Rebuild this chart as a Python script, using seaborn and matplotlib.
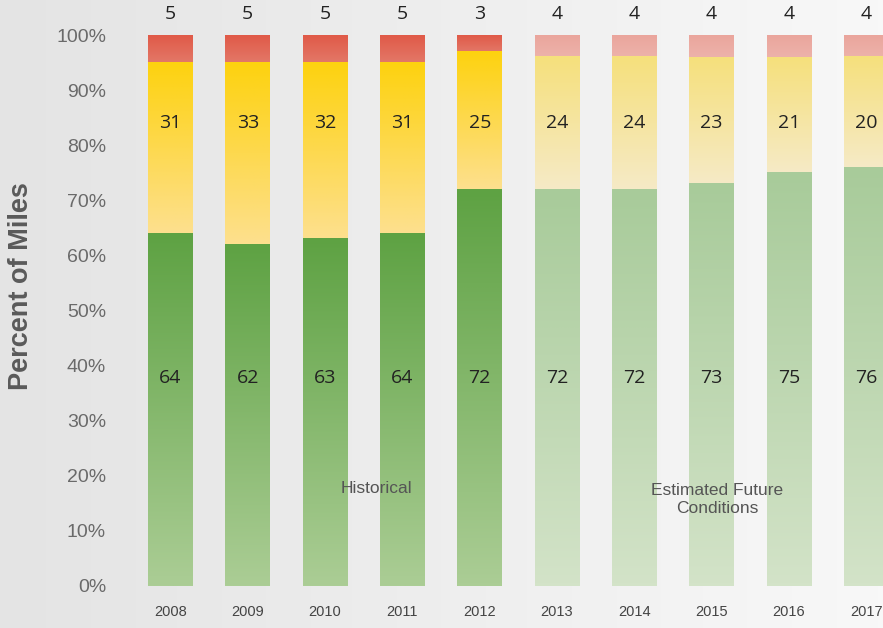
import numpy as np
import pandas as pd
import seaborn as sns
import matplotlib
matplotlib.use("Agg")
import matplotlib.pyplot as plt
from matplotlib.colors import LinearSegmentedColormap

# --- data ---
years = ['2008', '2009', '2010', '2011', '2012', '2013', '2014', '2015', '2016', '2017']
good = [64, 62, 63, 64, 72, 72, 72, 73, 75, 76]
fair = [31, 33, 32, 31, 25, 24, 24, 23, 21, 20]
poor = [5, 5, 5, 5, 3, 4, 4, 4, 4, 4]
period = ['hist', 'hist', 'hist', 'hist', 'hist', 'est', 'est', 'est', 'est', 'est']

df = pd.DataFrame({'year': years, 'good': good, 'fair': fair, 'poor': poor, 'period': period})
df['fair_top'] = df['good'] + df['fair']
df['poor_top'] = df['fair_top'] + df['poor']

# gradient colours (top, bottom) per layer and period
colors = {
    'hist': {'good': ('#5ea243', '#abcd95'), 'fair': ('#fdd20f', '#fde08e'), 'poor': ('#e05a48', '#e37868')},
    'est': {'good': ('#a8cb9a', '#d3e3c8'), 'fair': ('#f6e07c', '#f5eac6'), 'poor': ('#eaa59c', '#edb2aa')},
}

sns.set_theme(style="white")
plt.rcParams['font.family'] = ['Liberation Sans', 'DejaVu Sans']

fig = plt.figure(figsize=(8.83, 6.28), dpi=100)

# paper-like background, darker on the left
bg = fig.add_axes([0, 0, 1, 1], zorder=-10)
bg.axis('off')
bg.imshow(np.linspace(0, 1, 256).reshape(1, -1), aspect='auto', extent=[0, 1, 0, 1],
          interpolation='bilinear',
          cmap=LinearSegmentedColormap.from_list('bg', ['#e4e4e4', '#f8f8f8']))

ax = fig.add_axes([120 / 883, 42 / 628, 763 / 883, 551 / 628])
ax.patch.set_alpha(0)


def shade(patches, bottoms, layer, z):
    # overlay a vertical gradient clipped to each bar segment
    for p, b, per in zip(patches, bottoms, df['period']):
        top_c, bot_c = colors[per][layer]
        p.set_facecolor(top_c)
        p.set_zorder(z)
        x0, w = p.get_x(), p.get_width()
        top = p.get_y() + p.get_height()
        cmap = LinearSegmentedColormap.from_list('g', [bot_c, top_c])
        ax.imshow(np.linspace(0, 1, 128).reshape(-1, 1), cmap=cmap, origin='lower',
                  interpolation='bilinear', aspect='auto', extent=[x0, x0 + w, b, top],
                  clip_path=p, clip_on=True, zorder=z + 0.5)


# stacked bars drawn as overlapping totals
sns.barplot(data=df, x='year', y='poor_top', color='#e05a48', width=0.58, linewidth=0, ax=ax)
shade(ax.patches[-10:], df['fair_top'], 'poor', 1)
sns.barplot(data=df, x='year', y='fair_top', color='#fdd20f', width=0.58, linewidth=0, ax=ax)
shade(ax.patches[-10:], df['good'], 'fair', 2)
sns.barplot(data=df, x='year', y='good', color='#5ea243', width=0.58, linewidth=0, ax=ax)
shade(ax.patches[-10:], [0] * 10, 'good', 3)

# value labels
lab = dict(ha='center', va='center', fontsize=14, color='#222222',
           family=['Open Sans', 'DejaVu Sans'], zorder=5)
for i, row in df.iterrows():
    ax.text(i, 103.8, str(row['poor']), clip_on=False, **lab)
    ax.text(i, 84, str(row['fair']), **lab)
    ax.text(i, 37.7, str(row['good']), **lab)

ax.text(2.66, 17.7, 'Historical', ha='center', va='center', fontsize=12.5,
        color='#555555', zorder=5)
ax.text(7.07, 15.7, 'Estimated Future\nConditions', ha='center', va='center', fontsize=12.5,
        color='#555555', linespacing=1.25, zorder=5)

ax.set_xlim(-0.653, 9.217)
ax.set_ylim(0, 100)
ax.set_yticks(range(0, 101, 10))
ax.set_yticklabels([f'{v}%' for v in range(0, 101, 10)], fontsize=14, color='#6a6a6a')
ax.tick_params(axis='y', length=0, pad=10)
ax.tick_params(axis='x', length=0, pad=14, labelsize=10.5, labelcolor='#444444')
ax.set_xlabel('')
ax.set_ylabel('')
for s in ax.spines.values():
    s.set_visible(False)
ax.grid(False)

fig.text(21 / 883, 1 - 286 / 628, 'Percent of Miles', rotation=90, ha='center', va='center',
         fontsize=19.5, fontweight='bold', color='#5a5a5a')

fig.savefig('out.png', dpi=100)
